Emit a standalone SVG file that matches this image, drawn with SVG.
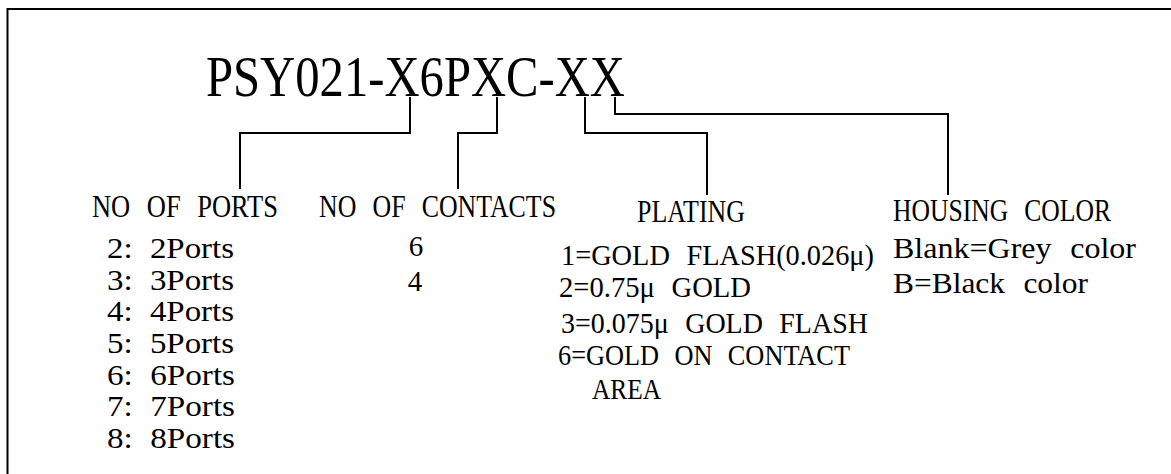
<svg xmlns="http://www.w3.org/2000/svg" width="1171" height="474" viewBox="0 0 1171 474">
<style>
  text { font-family: "Liberation Serif", "DejaVu Serif", serif; fill: #000; }
  .title { font-size: 57px; }
  .hdr { font-size: 32px; word-spacing: 12px; }
  .row { font-size: 29px; word-spacing: 8px; }
  .item { font-size: 30px; word-spacing: 10px; }
  .ln { fill: none; stroke: #000; stroke-width: 2; }
</style>
<rect width="1171" height="474" fill="#fff"/>
<path class="ln" d="M7.5,474 V9 H1171"/>
<g id="title">
  <text class="title" x="206" y="96" textLength="419" lengthAdjust="spacingAndGlyphs">PSY021-X6PXC-XX</text>
</g>
<g id="connectors">
  <path class="ln" d="M410,97 V133 H240 V189"/>
  <path class="ln" d="M497,97 V133 H458 V189"/>
  <path class="ln" d="M585,97 V133 H707 V195"/>
  <path class="ln" d="M615,97 V114 H948 V195"/>
</g>
<g id="ports">
  <text class="hdr" x="92" y="217" textLength="186" lengthAdjust="spacingAndGlyphs">NO OF PORTS</text>
  <text class="row" x="107" y="258" textLength="127" lengthAdjust="spacingAndGlyphs">2: 2Ports</text>
  <text class="row" x="107" y="290" textLength="127" lengthAdjust="spacingAndGlyphs">3: 3Ports</text>
  <text class="row" x="107" y="321" textLength="127" lengthAdjust="spacingAndGlyphs">4: 4Ports</text>
  <text class="row" x="107" y="353" textLength="127" lengthAdjust="spacingAndGlyphs">5: 5Ports</text>
  <text class="row" x="107" y="385" textLength="128" lengthAdjust="spacingAndGlyphs">6: 6Ports</text>
  <text class="row" x="107" y="416" textLength="128" lengthAdjust="spacingAndGlyphs">7: 7Ports</text>
  <text class="row" x="107" y="448" textLength="128" lengthAdjust="spacingAndGlyphs">8: 8Ports</text>
</g>
<g id="contacts">
  <text class="hdr" x="319" y="217" textLength="237" lengthAdjust="spacingAndGlyphs">NO OF CONTACTS</text>
  <text class="row" x="416" y="256" text-anchor="middle">6</text>
  <text class="row" x="415" y="291" text-anchor="middle">4</text>
</g>
<g id="plating">
  <text class="hdr" x="637" y="222" textLength="108" lengthAdjust="spacingAndGlyphs">PLATING</text>
  <text class="item" x="561" y="265" textLength="313" lengthAdjust="spacingAndGlyphs">1=GOLD FLASH(0.026μ)</text>
  <text class="item" x="559" y="297" textLength="192" lengthAdjust="spacingAndGlyphs">2=0.75μ GOLD</text>
  <text class="item" x="561" y="333" textLength="307" lengthAdjust="spacingAndGlyphs">3=0.075μ GOLD FLASH</text>
  <text class="item" x="558" y="365" textLength="292" lengthAdjust="spacingAndGlyphs">6=GOLD ON CONTACT</text>
  <text class="item" x="592" y="399" textLength="69" lengthAdjust="spacingAndGlyphs">AREA</text>
</g>
<g id="housing">
  <text class="hdr" x="893" y="221" textLength="218" lengthAdjust="spacingAndGlyphs">HOUSING COLOR</text>
  <text class="item" x="893" y="258" textLength="243" lengthAdjust="spacingAndGlyphs">Blank=Grey color</text>
  <text class="item" x="893" y="293" textLength="195" lengthAdjust="spacingAndGlyphs">B=Black color</text>
</g>
</svg>
